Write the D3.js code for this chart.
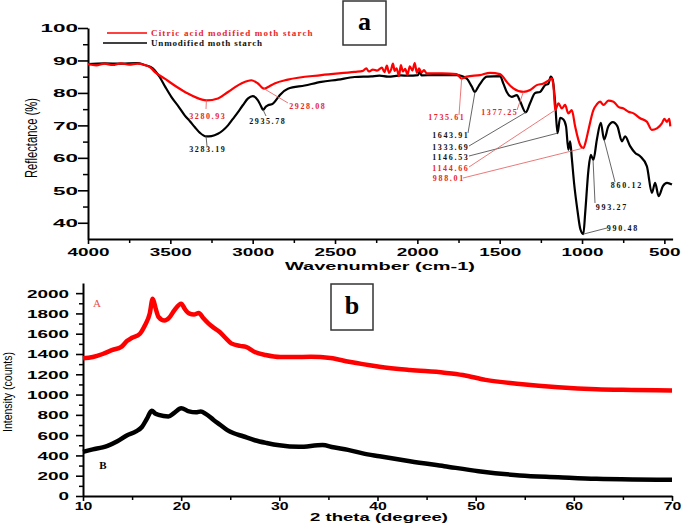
<!DOCTYPE html>
<html><head><meta charset="utf-8">
<script src="https://cdn.jsdelivr.net/npm/d3@7"></script>
<style>
html,body{margin:0;padding:0;background:#fff;}
svg{display:block;}
</style></head>
<body>
<svg id="chart" width="685" height="527"></svg>
<script>
// ---------------- DATA ----------------
// Panel a: FTIR reflectance (%) vs wavenumber (cm-1)
const ftirUnmodified = [[4000,88.9],[3900,89.1],[3800,89.0],[3700,89.2],[3656,88.6],[3620,88.0],[3595,87.0],[3565,84.9],[3530,81.8],[3494,78.8],[3450,75.8],[3413,73.1],[3380,71.2],[3352,69.5],[3320,67.7],[3283,66.6],[3250,66.7],[3211,67.4],[3180,68.5],[3150,70.0],[3120,72.0],[3089,74.1],[3060,76.2],[3028,78.3],[3000,79.0],[2968,77.7],[2950,76.0],[2937,74.8],[2920,75.8],[2907,76.2],[2877,76.7],[2855,78.0],[2836,79.3],[2786,81.3],[2684,82.3],[2583,83.4],[2482,84.1],[2381,84.9],[2280,85.1],[2230,85.3],[2178,85.0],[2100,85.4],[2057,85.3],[1995,85.5],[1985,86.8],[1975,85.4],[1900,85.5],[1800,85.5],[1761,85.5],[1700,84.4],[1670,82.0],[1650,80.3],[1635,81.5],[1619,82.8],[1579,85.0],[1498,85.2],[1477,82.8],[1457,80.3],[1427,78.8],[1396,79.3],[1376,77.4],[1342,74.0],[1315,76.9],[1285,80.0],[1255,80.3],[1224,82.4],[1204,82.8],[1190,85.0],[1178,84.0],[1163,76.9],[1149,67.6],[1133,72.3],[1113,71.8],[1097,69.7],[1083,62.5],[1072,65.1],[1062,59.9],[1048,52.1],[1028,43.9],[1010,38.0],[992,36.5],[981,42.9],[961,56.3],[947,60.9],[931,59.4],[910,65.6],[886,70.8],[866,65.6],[840,69.7],[813,71.0],[785,69.7],[758,65.1],[738,66.6],[708,63.6],[677,61.5],[647,60.5],[606,57.4],[576,49.2],[556,52.3],[535,48.2],[509,51.3],[484,52.3],[454,51.8]];
const ftirCitric = [[4000,88.9],[3950,88.5],[3900,89.0],[3850,88.6],[3800,89.1],[3750,88.7],[3700,89.0],[3656,88.6],[3620,87.8],[3595,86.5],[3534,84.4],[3474,82.3],[3393,79.8],[3312,78.0],[3281,77.7],[3211,78.3],[3150,80.3],[3069,82.9],[3008,83.9],[2968,82.9],[2931,81.3],[2900,82.0],[2867,82.9],[2786,84.1],[2583,85.5],[2381,86.5],[2330,86.8],[2310,87.6],[2295,86.6],[2270,87.2],[2245,86.9],[2215,87.8],[2200,86.4],[2185,88.4],[2172,86.2],[2160,87.1],[2148,89.0],[2138,86.8],[2126,87.6],[2112,85.2],[2100,88.6],[2088,86.6],[2074,87.4],[2060,85.6],[2046,88.2],[2030,86.9],[2016,89.2],[2003,86.2],[1990,87.6],[1975,86.3],[1960,87.0],[1943,86.0],[1850,86.0],[1761,85.8],[1731,84.4],[1700,85.0],[1619,85.5],[1558,86.2],[1498,85.8],[1477,84.8],[1457,83.4],[1417,81.4],[1356,80.3],[1315,80.9],[1275,82.4],[1234,82.9],[1204,83.8],[1184,84.5],[1173,81.9],[1163,74.7],[1143,76.8],[1123,75.2],[1103,76.3],[1083,73.7],[1062,74.7],[1042,69.7],[1012,64.0],[992,63.0],[975,65.5],[961,68.6],[931,74.7],[910,76.5],[890,77.3],[870,76.3],[840,77.6],[809,77.3],[779,75.7],[748,75.2],[718,74.2],[687,73.7],[647,72.2],[606,71.1],[576,68.6],[545,69.1],[515,70.6],[500,72.0],[484,71.1],[470,72.0],[464,69.7]];
const ftirSeriesNames = ["Citric acid modified moth starch","Unmodified moth starch"];
const ftirXTicks = [4000,3500,3000,2500,2000,1500,1000,500];
const ftirYTicks = [40,50,60,70,80,90,100];
// peak annotations: label text, series, anchor point on curve [wavenumber, reflectance]
const ftirPeakLabels = ["3280.93","3283.19","2935.78","2928.08","1735.61","1377.25","1643.91","1333.69","1146.53","1144.66","988.01","860.12","993.27","990.48"];
const ftirPeakSeries = ["c","u","u","c","c","c","u","u","u","c","c","u","u","u"];
const ftirPeakPoints = [[3281,77.7],[3283,66.6],[2937,74.8],[2931,81.3],[1731,84.4],[1356,80.3],[1650,80.3],[1342,74.0],[1149,67.6],[1163,74.7],[992,63.0],[866,65.6],[933,59.4],[992,36.5]];

// Panel b: XRD intensity (counts) vs 2 theta (degree)
const xrdA = [[10,1357],[11,1370],[12,1400],[13,1440],[13.9,1470],[14.5,1530],[15,1560],[15.8,1600],[16.3,1680],[16.8,1800],[17.1,1945],[17.4,1850],[17.7,1765],[18.3,1730],[18.8,1760],[19.3,1830],[20,1895],[20.4,1840],[20.8,1800],[21.3,1790],[21.8,1805],[22.2,1760],[22.8,1700],[23.3,1660],[23.9,1620],[24.5,1560],[25.1,1505],[26,1480],[26.6,1470],[27.5,1420],[28.6,1390],[30.1,1370],[31.5,1370],[33.2,1373],[35.2,1360],[37.1,1324],[38.5,1300],[40.2,1275],[43.3,1243],[46.8,1216],[48.7,1193],[51,1145],[54.5,1105],[58.4,1073],[62.3,1053],[66.1,1046],[70,1040]];
const xrdB = [[10,435],[11,460],[12,480],[12.5,495],[13.5,540],[14.5,600],[15.4,637],[16,680],[16.5,760],[17,840],[17.4,810],[17.7,800],[18.7,785],[19.3,820],[20,866],[20.8,834],[21.5,825],[22,834],[22.5,810],[23.3,750],[24,700],[24.7,650],[25.3,621],[26.3,589],[27.5,550],[28.7,523],[30,500],[32,485],[34.4,503],[35.5,480],[37,455],[38.5,420],[40.2,392],[43.3,343],[46.8,294],[50.3,245],[54.5,203],[58.4,186],[62.3,170],[66.1,163],[70,160]];
const xrdXTicks = [10,20,30,40,50,60,70];
const xrdYTicks = [0,200,400,600,800,1000,1200,1400,1600,1800,2000];

// ---------------- LAYOUT ----------------
const RED = "#ff0000", RED_TXT = "#e8262a";
const svg = d3.select("#chart");
const sansB = "'Liberation Sans', Arial, sans-serif";
const serif = "'Liberation Serif', 'Times New Roman', serif";
const fmt = d3.format("d");

// label placements (pixel) for annotation text + leader end: [textCenterX, baselineY, leaderEndX, leaderEndY]
const ftirLabelLayout = [[207,119,206,109],[207,152,207,146],[267,124,266,116],[307,109,288,103],[446,120,459,115],[499,115,517,110],[450,138,468,133],[450,150,469,146],[450,160,469,156],[450,171,469,167],[448,181,463,178],[626,188,615,182],[611,210,595,203],[622,231,607,228]];

// ===== Panel a =====
const xA = d3.scaleLinear().domain([4000,450]).range([88,672.6]);
const yA = d3.scaleLinear().domain([35,100]).range([239,28]);

function styleAxis(g, cw, fs){
  g.select(".domain").attr("stroke","#000").attr("stroke-width",2);
  g.selectAll(".tick line").attr("stroke","#000").attr("stroke-width",1.6);
  g.selectAll(".tick text")
    .attr("fill","#000")
    .style("font-family",sansB).style("font-weight","bold").style("font-size",fs+"px")
    .each(function(){ const t=d3.select(this); const n=t.text().length; t.attr("textLength", n*cw).attr("lengthAdjust","spacingAndGlyphs"); });
}
function minorStyle(g){
  g.select(".domain").remove();
  g.selectAll(".tick line").attr("stroke","#000").attr("stroke-width",1.5);
}

// minor ticks
minorStyle(svg.append("g").attr("transform","translate(0,239)")
  .call(d3.axisBottom(xA).tickValues(d3.range(3750,450,-500)).tickSize(4).tickFormat("").tickSizeOuter(0)));
minorStyle(svg.append("g").attr("transform","translate(88,0)")
  .call(d3.axisLeft(yA).tickValues(d3.range(45,100,10)).tickSize(5).tickFormat("").tickSizeOuter(0)));

const gAx = svg.append("g").attr("transform","translate(0,239)")
  .call(d3.axisBottom(xA).tickValues(ftirXTicks).tickFormat(fmt).tickSize(5).tickSizeOuter(0));
styleAxis(gAx, 10.5, 11);
gAx.selectAll(".tick text").attr("y",9).attr("dy","0.71em");

const gAy = svg.append("g").attr("transform","translate(88,0)")
  .call(d3.axisLeft(yA).tickValues(ftirYTicks).tickFormat(fmt).tickSize(10).tickSizeOuter(0));
styleAxis(gAy, 12.5, 11);
gAy.selectAll(".tick text").attr("x",-10).attr("dy","0.36em");

// FTIR lines
const lineA = d3.line().x(d=>xA(d[0])).y(d=>yA(d[1])).curve(d3.curveMonotoneX);
svg.append("path").datum(ftirUnmodified).attr("d",lineA).attr("fill","none").attr("stroke","#000").attr("stroke-width",2.2).attr("stroke-linejoin","round");
svg.append("path").datum(ftirCitric).attr("d",lineA).attr("fill","none").attr("stroke",RED).attr("stroke-width",2.2).attr("stroke-linejoin","round");

// annotations
ftirPeakLabels.forEach((lab,i)=>{
  const isC = ftirPeakSeries[i]==="c";
  const p = ftirPeakPoints[i], L = ftirLabelLayout[i];
  svg.append("line").attr("x1",xA(p[0])).attr("y1",yA(p[1])).attr("x2",L[2]).attr("y2",L[3])
    .attr("stroke", isC ? "#e86a6a" : "#555").attr("stroke-width",0.9);
  svg.append("text").attr("x",L[0]).attr("y",L[1]).attr("text-anchor","middle")
    .attr("fill", isC ? RED_TXT : "#111")
    .style("font-family",serif).style("font-weight","bold").style("font-size","8px")
    .attr("textLength", lab.length*5.1).attr("lengthAdjust","spacing")
    .text(lab);
});

// legend
const legend = [[ftirSeriesNames[0], RED, RED_TXT, 107, 33],[ftirSeriesNames[1], "#000", "#111", 103, 43]];
legend.forEach(l=>{
  svg.append("line").attr("x1",l[3]).attr("x2",147).attr("y1",l[4]).attr("y2",l[4]).attr("stroke",l[1]).attr("stroke-width",1.3);
  svg.append("text").attr("x",151).attr("y",l[4]+3).attr("fill",l[2])
    .style("font-family",serif).style("font-weight","bold").style("font-size","9px")
    .attr("textLength", l[0].length*5.05).attr("lengthAdjust","spacing")
    .text(l[0]);
});

// axis titles panel a
svg.append("text").attr("x",380).attr("y",270).attr("text-anchor","middle")
  .style("font-family",sansB).style("font-weight","bold").style("font-size","10.5px")
  .attr("textLength",190).attr("lengthAdjust","spacingAndGlyphs").text("Wavenumber (cm-1)");
svg.append("text").attr("transform","translate(37,138) rotate(-90)").attr("text-anchor","middle")
  .style("font-family",sansB).style("font-size","16px")
  .attr("textLength",80).attr("lengthAdjust","spacingAndGlyphs").text("Reflectance (%)");

// panel label a
svg.append("rect").attr("x",343).attr("y",1).attr("width",43).attr("height",44).attr("fill","#fff").attr("stroke","#333").attr("stroke-width",1.5);
svg.append("text").attr("x",364.5).attr("y",30).attr("text-anchor","middle")
  .style("font-family",serif).style("font-weight","bold").style("font-size","26px").text("a");

// ===== Panel b =====
const xB = d3.scaleLinear().domain([10,70]).range([83,672]);
const yB = d3.scaleLinear().domain([0,2100]).range([496,283]);

minorStyle(svg.append("g").attr("transform","translate(0,496)")
  .call(d3.axisBottom(xB).tickValues(d3.range(15,70,10)).tickSize(4).tickFormat("").tickSizeOuter(0)));
minorStyle(svg.append("g").attr("transform","translate(83,0)")
  .call(d3.axisLeft(yB).tickValues(d3.range(100,2100,200)).tickSize(4).tickFormat("").tickSizeOuter(0)));

const gBx = svg.append("g").attr("transform","translate(0,496)")
  .call(d3.axisBottom(xB).tickValues(xrdXTicks).tickFormat(fmt).tickSize(5).tickSizeOuter(0));
styleAxis(gBx, 8.8, 11);
gBx.selectAll(".tick text").attr("y",6).attr("dy","0.71em");

const gBy = svg.append("g").attr("transform","translate(83,0)")
  .call(d3.axisLeft(yB).tickValues(xrdYTicks).tickFormat(fmt).tickSize(7).tickSizeOuter(0));
styleAxis(gBy, 10.5, 11);
gBy.selectAll(".tick text").attr("x",-14).attr("dy","0.36em");

const lineB = d3.line().x(d=>xB(d[0])).y(d=>yB(d[1])).curve(d3.curveMonotoneX);
svg.append("path").datum(xrdA).attr("d",lineB).attr("fill","none").attr("stroke",RED).attr("stroke-width",4.5).attr("stroke-linejoin","round");
svg.append("path").datum(xrdB).attr("d",lineB).attr("fill","none").attr("stroke","#000").attr("stroke-width",4.5).attr("stroke-linejoin","round");

svg.append("text").attr("x",97).attr("y",307).attr("text-anchor","middle").attr("fill","#e85050")
  .style("font-family",serif).style("font-size","11px").text("A");
svg.append("text").attr("x",103).attr("y",469).attr("text-anchor","middle").attr("fill","#000")
  .style("font-family",serif).style("font-weight","bold").style("font-size","11px").text("B");

svg.append("text").attr("x",379).attr("y",521).attr("text-anchor","middle")
  .style("font-family",sansB).style("font-weight","bold").style("font-size","10.5px")
  .attr("textLength",138).attr("lengthAdjust","spacingAndGlyphs").text("2 theta (degree)");
svg.append("text").attr("transform","translate(12,392) rotate(-90)").attr("text-anchor","middle")
  .style("font-family",sansB).style("font-size","12px")
  .attr("textLength",80).attr("lengthAdjust","spacingAndGlyphs").text("Intensity (counts)");

svg.append("rect").attr("x",331).attr("y",284).attr("width",42).attr("height",46).attr("fill","#fff").attr("stroke","#333").attr("stroke-width",1.5);
svg.append("text").attr("x",352).attr("y",314).attr("text-anchor","middle")
  .style("font-family",serif).style("font-weight","bold").style("font-size","26px").text("b");
</script>
</body></html>
